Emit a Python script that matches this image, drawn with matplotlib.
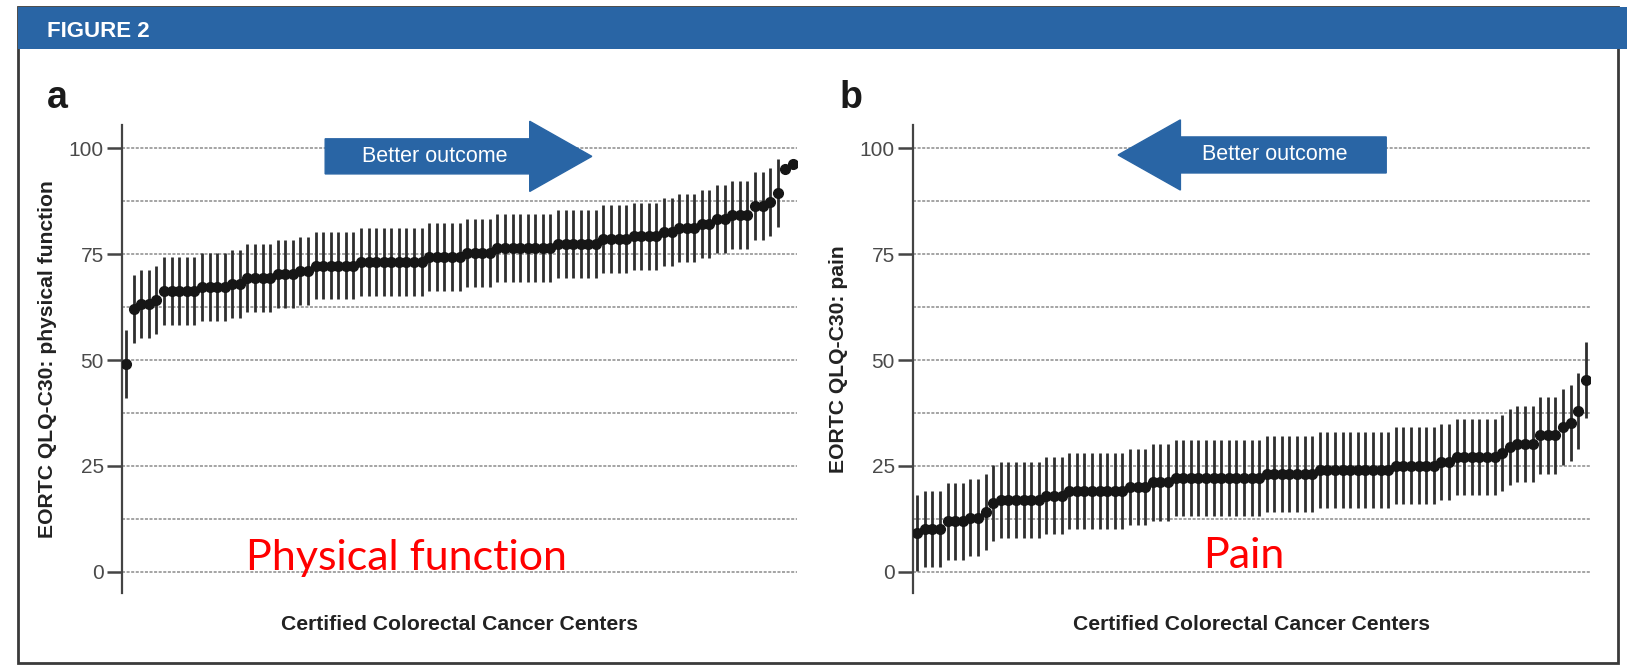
import matplotlib
matplotlib.use('Agg')
import numpy as np
import matplotlib.pyplot as plt
from matplotlib.patches import FancyArrow, Rectangle

# Mean score per certified centre (sorted) and half-width of its confidence interval
pf_mean = [49.0, 62.0, 63.2, 63.2, 64.2,
           66.3, 66.3, 66.3, 66.3, 66.3,
           67.3, 67.3, 67.3, 67.3, 68.0, 68.0,
           69.3, 69.3, 69.3, 69.3, 70.3, 70.3, 70.3,
           71.1, 71.1, 72.3, 72.3, 72.3, 72.3, 72.3, 72.3,
           73.2, 73.2, 73.2, 73.2, 73.2, 73.2, 73.2, 73.2, 73.2,
           74.4, 74.4, 74.4, 74.4, 74.4, 75.3, 75.3, 75.3, 75.3,
           76.5, 76.5, 76.5, 76.5, 76.5, 76.5, 76.5, 76.5,
           77.4, 77.4, 77.4, 77.4, 77.4, 77.4, 78.5, 78.5, 78.5, 78.5,
           79.2, 79.2, 79.2, 79.2, 80.3, 80.3, 81.2, 81.2, 81.2,
           82.2, 82.2, 83.3, 83.3, 84.3, 84.3, 84.3, 86.3, 86.3,
           87.3, 89.5, 95.2, 96.2]
pf_ci = [8, 8, 8, 8, 8, 8, 8, 8, 8, 8, 8, 8, 8, 8, 8, 8, 8, 8, 8, 8,
         8, 8, 8, 8, 8, 8, 8, 8, 8, 8, 8, 8, 8, 8, 8, 8, 8, 8, 8, 8,
         8, 8, 8, 8, 8, 8, 8, 8, 8, 8, 8, 8, 8, 8, 8, 8, 8, 8, 8, 8,
         8, 8, 8, 8, 8, 8, 8, 8, 8, 8, 8, 8, 8, 8, 8, 8, 8, 8, 8, 8,
         8, 8, 8, 8, 8, 8, 8, 0, 0]

pain_mean = [9.1, 10.1, 10.1, 10.1, 11.9, 11.9, 11.9, 12.8, 12.8, 14.1, 16.2,
             17.0, 17.0, 17.0, 17.0, 17.0, 17.0, 18.0, 18.0, 18.0,
             19.1, 19.1, 19.1, 19.1, 19.1, 19.1, 19.1, 19.1,
             20.0, 20.0, 20.0, 21.1, 21.1, 21.1,
             22.1, 22.1, 22.1, 22.1, 22.1, 22.1, 22.1, 22.1, 22.1, 22.1, 22.1, 22.1,
             23.1, 23.1, 23.1, 23.1, 23.1, 23.1, 23.1,
             24.1, 24.1, 24.1, 24.1, 24.1, 24.1, 24.1, 24.1, 24.1, 24.1,
             25.1, 25.1, 25.1, 25.1, 25.1, 25.1, 26.0, 26.0,
             27.2, 27.2, 27.2, 27.2, 27.2, 27.2, 28.1, 29.4,
             30.2, 30.2, 30.2, 32.2, 32.2, 32.2, 34.2, 35.2, 38.0, 45.3]
pain_ci = [9, 9, 9, 9, 9, 9, 9, 9, 9, 9, 9, 9, 9, 9, 9, 9, 9, 9, 9, 9,
           9, 9, 9, 9, 9, 9, 9, 9, 9, 9, 9, 9, 9, 9, 9, 9, 9, 9, 9, 9,
           9, 9, 9, 9, 9, 9, 9, 9, 9, 9, 9, 9, 9, 9, 9, 9, 9, 9, 9, 9,
           9, 9, 9, 9, 9, 9, 9, 9, 9, 9, 9, 9, 9, 9, 9, 9, 9, 9, 9, 9,
           9, 9, 9, 9, 9, 9, 9, 9, 9]

y_ticks = [0, 25, 50, 75, 100]
grid_levels = [0, 12.5, 25, 37.5, 50, 62.5, 75, 87.5, 100]

BLUE = '#2965a5'
FONT = 'Liberation Sans'
W, H = 1627, 665

fig = plt.figure(figsize=(W / 100, H / 100), dpi=100)
plt.rcParams['font.family'] = FONT

# blue header band and the frame around the figure
fig.patches.append(Rectangle((18 / W, 1 - 663 / H), 1600 / W, 656 / H, transform=fig.transFigure,
                             fill=False, edgecolor='#3a3a3a', lw=2))
fig.patches.append(Rectangle((18 / W, 1 - 49 / H), (W - 18) / W, 42 / H, transform=fig.transFigure,
                             facecolor=BLUE, edgecolor='none'))
fig.text(47 / W, 1 - 37 / H, 'FIGURE 2', color='white', fontsize=16, fontweight='bold',
         va='baseline', ha='left')


def draw_panel(ax, mean, ci, ylabel, arrow_right):
    x = np.arange(len(mean))
    ax.errorbar(x, mean, yerr=ci, fmt='o', color='#161616', ecolor='#2e2e2e',
                elinewidth=2.0, markersize=7, capsize=0, zorder=3)
    ax.set_xlim(-0.55, len(mean) - 0.45)
    ax.set_ylim(-5, 105.5)
    ax.set_yticks(y_ticks)
    ax.set_yticks(grid_levels, minor=True)
    ax.grid(axis='y', which='both', linestyle=(0, (2, 1)), color='#8c8c8c', lw=1.1, zorder=1)
    ax.tick_params(axis='y', which='major', length=11, width=1.8, color='#444444',
                   labelsize=15, labelcolor='#4a4a4a', pad=2)
    ax.tick_params(axis='y', which='minor', length=0)
    ax.set_xticks([])
    for side in ['top', 'right', 'bottom']:
        ax.spines[side].set_visible(False)
    ax.spines['left'].set_color('#444444')
    ax.spines['left'].set_linewidth(1.6)

    ax.set_ylabel(ylabel, fontsize=15.2, fontweight='bold', color='#222222')
    ax.yaxis.set_label_coords(-0.096, 0.5)
    ax.set_xlabel('Certified Colorectal Cancer Centers', fontsize=15.2, fontweight='bold',
                  color='#222222', va='top')
    ax.xaxis.set_label_coords(0.5, -0.047)

    # "Better outcome" arrow
    if arrow_right:
        ax.add_patch(FancyArrow(0.301, 0.933, 0.395, 0, width=0.075, head_width=0.15,
                                head_length=0.092, length_includes_head=True,
                                transform=ax.transAxes, color=BLUE, clip_on=False, zorder=4))
        ax.text(0.464, 0.933, 'Better outcome', transform=ax.transAxes, color='white',
                fontsize=15.5, ha='center', va='center', zorder=5)
    else:
        ax.add_patch(FancyArrow(0.699, 0.936, -0.396, 0, width=0.077, head_width=0.15,
                                head_length=0.092, length_includes_head=True,
                                transform=ax.transAxes, color=BLUE, clip_on=False, zorder=4))
        ax.text(0.535, 0.936, 'Better outcome', transform=ax.transAxes, color='white',
                fontsize=15.5, ha='center', va='center', zorder=5)
    return ax


ax_a = fig.add_axes([122 / W, 1 - 593 / H, 675 / W, 468 / H])
draw_panel(ax_a, pf_mean, pf_ci, 'EORTC QLQ-C30: physical function', True)
ax_a.text(0.422, 0.049, 'Physical function', transform=ax_a.transAxes, color='red',
          fontsize=31, family='Lato', ha='center', va='baseline', zorder=6)

ax_b = fig.add_axes([913 / W, 1 - 593 / H, 677 / W, 468 / H])
draw_panel(ax_b, pain_mean, pain_ci, 'EORTC QLQ-C30: pain', False)
ax_b.text(0.489, 0.053, 'Pain', transform=ax_b.transAxes, color='red',
          fontsize=31, family='Lato', ha='center', va='baseline', zorder=6)

# panel letters
fig.text(47 / W, 1 - 108 / H, 'a', fontsize=27, fontweight='bold', color='#1a1a1a', va='baseline')
fig.text(840 / W, 1 - 108 / H, 'b', fontsize=27, fontweight='bold', color='#1a1a1a', va='baseline')

fig.savefig('out.png', dpi=100)
